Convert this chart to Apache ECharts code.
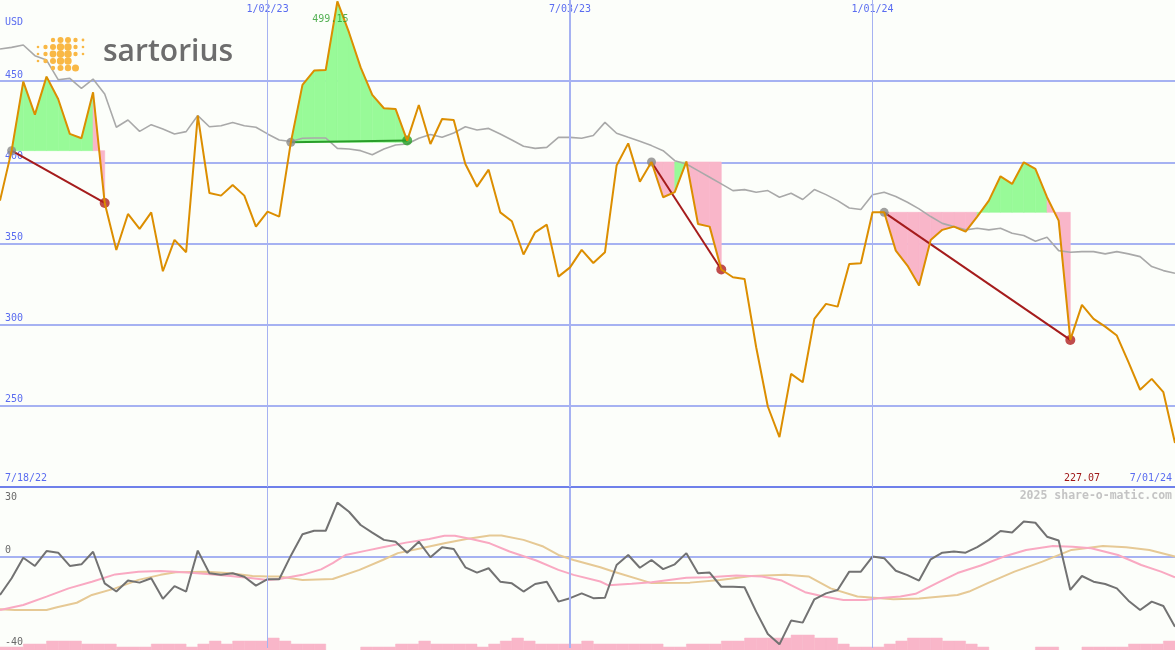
<!DOCTYPE html>
<html><head><meta charset="utf-8">
<script src="https://cdn.jsdelivr.net/npm/echarts@6/dist/echarts.min.js"></script>
<style>html,body{margin:0;padding:0;background:#fcfefa}#c{width:1175px;height:650px}</style>
</head><body><div id="c"></div>
<script>
// ---- data (weekly, index 0 = 7/25/22 ... index 101 = 7/01/24) ----
const price = [376.4,407.2,449.7,429.4,452.8,439.0,417.5,414.8,443.1,375.0,
346.0,368.2,359.0,369.2,332.9,352.2,344.6,428.8,381.1,379.5,
386.1,379.5,360.4,369.6,366.6,412.3,447.7,456.5,456.9,499.15,
480.0,458.5,441.5,433.3,432.9,413.4,435.3,411.3,426.7,426.1,
399.0,385.0,395.5,369.2,363.7,343.2,356.9,361.6,329.6,335.3,
346.1,338.0,344.6,398.0,411.7,388.1,400.2,378.5,381.6,400.5,
362.0,360.4,334.0,329.2,328.2,286.1,249.6,230.7,269.7,264.5,
303.6,312.8,311.1,337.4,337.8,369.2,369.2,345.6,336.4,324.1,
352.2,358.4,360.4,357.3,366.6,376.4,391.4,386.7,400.0,395.9,
378.5,364.1,290.6,312.2,303.6,298.8,293.3,276.9,259.9,266.6,
258.4,227.07];
const compare = [469.8,470.8,472.3,465.7,463.0,450.9,451.7,445.6,451.3,442.1,
421.6,426.1,419.1,423.2,420.6,417.5,418.9,428.8,421.9,422.5,
424.6,422.5,421.6,417.5,413.8,412.8,414.8,415.0,415.0,408.6,
408.2,407.2,404.7,408.2,410.7,411.3,414.8,417.1,415.4,418.1,
421.9,419.9,420.9,417.5,413.8,409.9,408.6,409.2,415.4,415.4,
414.8,416.5,424.6,417.9,415.4,413.0,410.3,407.2,401.0,399.0,
394.9,390.8,386.7,382.6,383.2,381.6,382.6,378.5,381.0,377.1,
383.2,380.1,376.4,371.9,370.9,380.0,381.6,378.9,375.4,371.3,
366.6,362.4,360.4,358.4,359.4,358.4,359.4,356.3,354.9,351.4,
353.8,345.6,344.6,345.0,345.0,343.6,345.0,343.6,341.9,335.8,
333.3,331.7];
const osc = [-16.8,-9.5,-0.5,-4.1,2.4,1.7,-4.1,-3.4,2.1,-11.7,
-15.3,-10.5,-11.4,-9.5,-18.5,-12.9,-15.3,2.6,-7.3,-8.0,
-7.3,-8.8,-12.7,-9.9,-9.9,0.4,9.8,11.3,11.3,23.6,
19.6,13.8,10.5,7.3,6.5,1.7,6.5,-0.3,4.1,3.3,
-4.7,-7.0,-5.1,-11.0,-11.7,-15.3,-12.0,-11.0,-19.7,-18.2,
-16.1,-18.2,-18.0,-3.7,0.7,-4.9,-1.5,-5.5,-3.4,1.5,
-7.3,-7.0,-13.2,-13.2,-13.4,-24.1,-33.9,-38.4,-28.0,-28.9,
-18.7,-16.1,-14.6,-6.6,-6.6,0.0,-0.7,-6.2,-8.1,-10.5,
-1.2,1.7,2.2,1.7,4.1,7.3,11.2,10.5,15.3,14.8,
8.7,7.0,-14.6,-8.5,-11.0,-12.0,-13.9,-19.3,-23.4,-19.7,
-21.6,-30.7];
const pinkPts = [[0,-23.4],[2,-21.2],[4,-17.5],[5.9,-13.9],[7.9,-11],[9.9,-7.8],[11.9,-6.6],[13.8,-6.3],[15.8,-6.9],[17.8,-7.6],
[19.8,-8.5],[21.7,-9.5],[23,-10.2],[24,-9.8],[26,-8],[27.6,-5.6],[28.6,-2.9],[29.7,0.7],[31.5,2.6],[32.9,4.1],
[34.9,6.1],[36.9,7.7],[38.2,9.1],[39.1,9.1],[40.5,7.7],[42.1,5.8],[43.8,2.2],[46.1,-1.7],[48,-5.8],[49.3,-8],
[51.6,-10.9],[52.3,-12.6],[54.3,-11.9],[56,-11.2],[59,-9.3],[60.9,-9],[63.3,-8.3],[65.5,-8.7],[67.2,-10.5],[69.2,-15.6],
[70.8,-17.5],[72.5,-19],[74.4,-19],[75.7,-18.1],[77.4,-17.5],[78.7,-16.3],[80.7,-11.2],[82.3,-7.2],[84.3,-3.9],[86.3,0],
[88.2,2.9],[90.5,4.6],[92.2,4.3],[93.8,3.6],[96.1,0.7],[98.1,-3.7],[99.8,-6.6],[101,-9.1]];
const tanPts = [[0,-23.1],[1.3,-23.4],[4,-23.4],[4.9,-22.2],[6.6,-20.2],[7.9,-16.8],[9.9,-13.9],[11.9,-10.2],[13.8,-8],[15.1,-6.9],
[17.8,-6.6],[19.8,-7.3],[21.7,-8.5],[23,-8.7],[24,-8.7],[26,-10.2],[28.6,-9.8],[30.9,-5.8],[32.9,-1.5],[34.2,1.5],
[36.2,3.6],[38.2,5.8],[40.1,7.7],[42.1,9.2],[43.1,9.2],[45,7.3],[46.7,4.4],[48,0.7],[49.3,-1.5],[51.6,-4.7],
[52.7,-6.5],[56,-11.6],[59.3,-11.4],[61.9,-10.2],[64.6,-8.5],[67.5,-8],[69.5,-8.7],[71.4,-13.9],[73.7,-17.5],[76.8,-18.7],
[79,-18.3],[82.3,-16.8],[83.3,-15.3],[84.9,-11.6],[87.2,-6.6],[89.6,-2.2],[92.1,2.9],[94.8,4.6],[96.8,4.1],[98.8,2.9],[101,0]];
const volume = [1,1,2,2,3,3,3,2,2,2, 1,1,1,2,2,2,1,2,3,2, 3,3,3,4,3,2,2,2,0,0,
0,1,1,1,2,2,3,2,2,2, 2,1,2,3,4,3,2,2,2,2, 3,2,2,2,2,2,2,1,1,2,
2,2,3,3,4,4,4,4,5,5, 4,4,2,1,1,1,2,3,4,4, 4,3,3,2,1,0,0,0,0,1,
1,0,0,1,1,1,1,2,2,2, 3];
const tradeEntry = [1, 25, 56, 76];
const tradeExit  = [9, 35, 62, 92];
const tickIdx = [23, 49, 75];
const tickWidth = [1, 2, 1];
const startLabel = '7/18/22', endLabel = '7/01/24', currency = 'USD';

// ---- styles ----
const BLUE = '#5a6cf0', GRID = '#a6b2f2', SEP = '#6f80ea';
const ORANGE = '#dc8e00', GREEN_FILL = '#98fa98', PINK_FILL = '#f9b6c9';
const LOSS = '#a51c1c', GAIN = '#2a9d2a';
const MONO = 'DejaVu Sans Mono';

const dates = price.map((_, i) => {
  const d = new Date(2022, 6, 25 + 7 * i);
  return (d.getMonth() + 1) + '/' + String(d.getDate()).padStart(2, '0') + '/' + String(d.getFullYear()).slice(2);
});

const fillSegs = [];
tradeEntry.forEach((a, t) => {
  const b = tradeExit[t], lv = price[a];
  for (let i = a; i < b; i++) fillSegs.push([i, price[i], price[i + 1], lv, price[i + 1] >= lv ? 1 : 0]);
});

const tradeSeries = tradeEntry.map((a, t) => {
  const b = tradeExit[t];
  return {
    type: 'line', xAxisIndex: 0, yAxisIndex: 0, z: 3, symbol: 'none', silent: true,
    data: [[a, price[a]], [b, price[b]]],
    lineStyle: { color: price[b] >= price[a] ? GAIN : LOSS, width: 2 }
  };
});

let maxIdx = 0;
price.forEach((v, i) => { if (v > price[maxIdx]) maxIdx = i; });

const chart = echarts.init(document.getElementById('c'), null, { renderer: 'canvas' });
const dots = [];
const dotRows = [[40,[[53,2.2],[60.5,3],[68,3],[75.5,2.2],[83,1.4]]],
  [47,[[38,1.3],[45.5,2.2],[53,3],[60.5,3.7],[68,3.7],[75.5,2.2],[83,1.3]]],
  [54,[[38,1.3],[45.5,2.2],[53,3.4],[60.5,3.8],[68,3.8],[75.5,2.2],[83,1.3]]],
  [61,[[38,1.3],[45.5,2.2],[53,3],[60.5,3.7],[68,3.7]]],
  [68,[[53,2.2],[60.5,3],[68,3.2],[75.5,3.5]]]];
dotRows.forEach(([y, arr]) => arr.forEach(([x, r]) => dots.push({
  type: 'circle', shape: { cx: x, cy: y, r: r }, style: { fill: '#f9b845' }, silent: true, z: 10
})));

chart.setOption({
  animation: false,
  backgroundColor: '#fcfefa',
  grid: [
    { left: 0, right: 0, top: 0, height: 487 },
    { left: 0, right: 0, top: 488, height: 160 },
    { left: 0, right: 0, top: 590, height: 60 }
  ],
  xAxis: [
    { gridIndex: 0, type: 'category', data: dates, boundaryGap: false, position: 'top',
      axisLine: { show: false }, axisTick: { show: false }, splitLine: { show: false },
      axisLabel: { inside: true, margin: 4, verticalAlign: 'top', color: BLUE, fontFamily: MONO, fontSize: 10,
        interval: (idx) => tickIdx.includes(idx) } },
    { gridIndex: 1, type: 'value', min: 0, max: 101, show: false },
    { gridIndex: 2, type: 'value', min: 0, max: 101, show: false }
  ],
  yAxis: [
    { gridIndex: 0, type: 'value', min: 200, max: 500, interval: 50,
      axisLine: { show: false }, axisTick: { show: false },
      axisLabel: { inside: true, margin: 5, verticalAlign: 'bottom', padding: [0, 0, 1, 0], color: BLUE, fontFamily: MONO, fontSize: 10,
        formatter: v => (v > 200 && v < 500) ? String(v) : '' },
      splitLine: { lineStyle: { color: [SEP, GRID, GRID, GRID, GRID, GRID, 'rgba(0,0,0,0)'], width: 2 } } },
    { gridIndex: 1, type: 'value', min: -40, max: 30, interval: 10,
      axisLine: { show: false }, axisTick: { show: false },
      axisLabel: { inside: true, margin: 5, verticalAlign: 'bottom', padding: [0, 0, 1, 0], color: '#6a6a6a', fontFamily: MONO, fontSize: 10,
        formatter: v => (v === 0 || v === -40) ? String(v) : '' },
      splitLine: { lineStyle: { color: ['rgba(0,0,0,0)', 'rgba(0,0,0,0)', 'rgba(0,0,0,0)', 'rgba(0,0,0,0)', GRID, 'rgba(0,0,0,0)', 'rgba(0,0,0,0)', 'rgba(0,0,0,0)'], width: 2 } } },
    { gridIndex: 2, type: 'value', min: 0, max: 20, show: false }
  ],
  series: [
    { type: 'custom', xAxisIndex: 2, yAxisIndex: 2, z: 0, silent: true,
      data: volume.map((v, k) => [k, v]), encode: { x: 0, y: 1 },
      renderItem: (params, api) => {
        const k = api.value(0), v = api.value(1);
        if (!v) return null;
        const p0 = api.coord([k, v]), p1 = api.coord([k + 1, 0]);
        return { type: 'rect', shape: { x: p0[0], y: p0[1], width: p1[0] - p0[0], height: p1[1] - p0[1] },
          style: { fill: PINK_FILL, stroke: PINK_FILL, lineWidth: 0.5 } };
      } },
    { type: 'custom', xAxisIndex: 0, yAxisIndex: 0, z: 1, silent: true,
      data: fillSegs, encode: { x: 0, y: [1, 2, 3] },
      renderItem: (params, api) => {
        const i = api.value(0), p0 = api.value(1), p1 = api.value(2), lv = api.value(3), up = api.value(4);
        const pts = [api.coord([i, lv]), api.coord([i, p0]), api.coord([i + 1, p1]), api.coord([i + 1, lv])];
        const c = up ? GREEN_FILL : PINK_FILL;
        return { type: 'polygon', shape: { points: pts }, style: { fill: c, stroke: c, lineWidth: 0.6 } };
      } },
    { type: 'line', xAxisIndex: 0, yAxisIndex: 0, z: 2, data: compare, symbol: 'none', silent: true,
      lineStyle: { color: '#a9a9a9', width: 1.6 },
      markLine: { silent: true, symbol: 'none', label: { show: false },
        data: tickIdx.map((t, k) => ({ xAxis: t, lineStyle: { color: GRID, width: tickWidth[k], type: 'solid' } })) } },
    ...tradeSeries,
    { type: 'scatter', xAxisIndex: 0, yAxisIndex: 0, z: 4, silent: true, symbolSize: 9,
      itemStyle: { color: '#888888' },
      data: tradeEntry.map(a => [a, price[a]]) },
    { type: 'scatter', xAxisIndex: 0, yAxisIndex: 0, z: 4, silent: true, symbolSize: 10,
      data: tradeExit.map((b, t) => ({ value: [b, price[b]],
        itemStyle: { color: price[b] >= price[tradeEntry[t]] ? GAIN : '#b02020' } })) },
    { type: 'line', xAxisIndex: 0, yAxisIndex: 0, z: 5, data: price, symbol: 'none', silent: true,
      lineStyle: { color: ORANGE, width: 2 } },
    { type: 'scatter', xAxisIndex: 0, yAxisIndex: 0, z: 6, silent: true, symbolSize: 0,
      data: [[maxIdx, price[maxIdx]]],
      label: { show: true, position: 'inside', offset: [-7, 18], color: GAIN, fontFamily: MONO, fontSize: 10,
        formatter: p => p.value[1].toFixed(2) } },
    { type: 'line', xAxisIndex: 1, yAxisIndex: 1, z: 2, data: tanPts, symbol: 'none', silent: true,
      lineStyle: { color: '#e6c995', width: 2 },
      markLine: { silent: true, symbol: 'none', label: { show: false },
        data: tickIdx.map((t, k) => ({ xAxis: t, lineStyle: { color: GRID, width: tickWidth[k], type: 'solid' } })) } },
    { type: 'line', xAxisIndex: 1, yAxisIndex: 1, z: 3, data: pinkPts, symbol: 'none', silent: true,
      lineStyle: { color: '#f9a9c2', width: 2 } },
    { type: 'line', xAxisIndex: 1, yAxisIndex: 1, z: 4, data: osc.map((v, i) => [i, v]), symbol: 'none', silent: true,
      lineStyle: { color: '#727272', width: 2 } }
  ],
  graphic: [
    { type: 'text', left: 5, top: 17, silent: true, style: { text: currency, fill: BLUE, font: '10px ' + MONO } },
    { type: 'text', left: 5, top: 473, silent: true, style: { text: startLabel, fill: BLUE, font: '10px ' + MONO } },
    { type: 'text', right: 3, top: 473, silent: true, style: { text: endLabel, fill: BLUE, font: '10px ' + MONO } },
    { type: 'text', right: 75, top: 473, silent: true, style: { text: price[price.length - 1].toFixed(2), fill: '#a01818', font: '10px ' + MONO } },
    { type: 'text', right: 3, top: 490, silent: true, style: { text: '2025 share-o-matic.com', fill: '#c4c4c4', font: 'bold 11.5px ' + MONO } },
    { type: 'text', left: 5, top: 492, silent: true, style: { text: '30', fill: '#6a6a6a', font: '10px ' + MONO } },
    { type: 'text', left: 103, top: 37, silent: true, z: 10, style: { text: 'sartorius', fill: '#6d6d6d', font: '600 30px "Open Sans"' } },
    ...dots
  ]
});
</script></body></html>
